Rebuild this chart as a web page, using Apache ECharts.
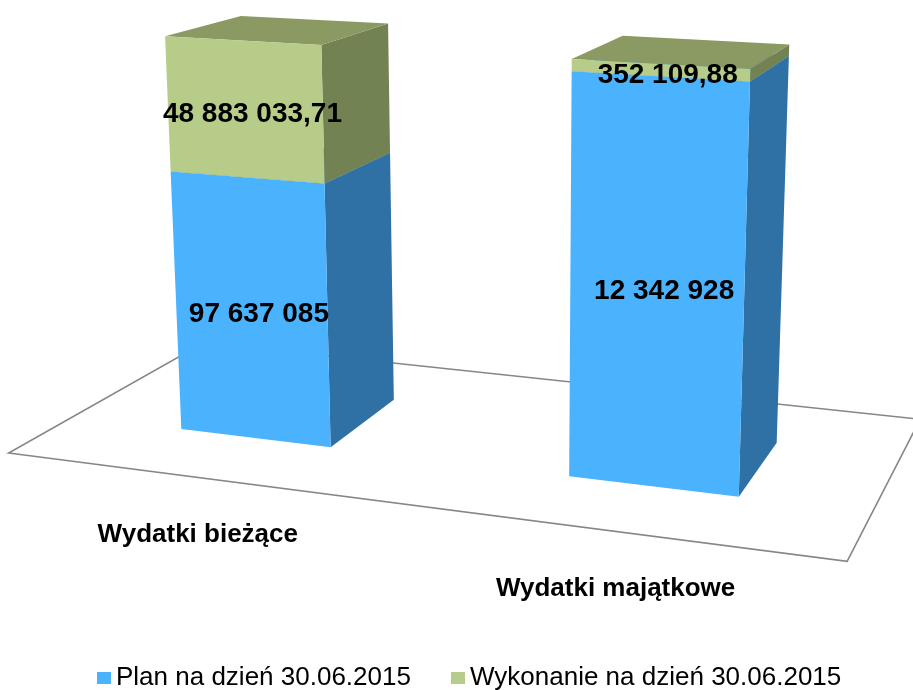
<!DOCTYPE html>
<html>
<head>
<meta charset="utf-8">
<style>
  html, body { margin: 0; padding: 0; background: #ffffff; }
  #chart { width: 913px; height: 690px; }
</style>
<script src="https://cdn.jsdelivr.net/npm/echarts@6/dist/echarts.min.js"></script>
</head>
<body>
<div id="chart"></div>
<script>
// dane
const categories = ['Wydatki bieżące', 'Wydatki majątkowe'];
const seriesNames = ['Plan na dzień 30.06.2015', 'Wykonanie na dzień 30.06.2015'];
const planValues = [97637085, 12342928];
const wykonanieValues = [48883033.71, 352109.88];

const colors = {
  plan: { front: '#4bb2fe', side: '#2f71a5', top: '#3c92d6' },
  wyk: { front: '#b7cc89', side: '#728253', top: '#8a9a62' }
};

// widok 3D: gdzie rzutuje się przednia płaszczyzna obszaru wykresu
const viewQuad = [[53, 30], [891, 77], [872, 513], [74, 416]];
const vanish = [1270, -260];
const depthFrac = 0.070;
const barFrac = 0.4;
const floorZ = [-0.75, 1.76];

const fmt = (v) => {
  const parts = v.toFixed(2).split('.');
  const int = parts[0].replace(/\B(?=(\d{3})+(?!\d))/g, ' ');
  return parts[1] === '00' ? int : int + ',' + parts[1];
};

const solve = (A, b) => {
  const n = b.length;
  for (let i = 0; i < n; i++) {
    let p = i;
    for (let r = i + 1; r < n; r++) if (Math.abs(A[r][i]) > Math.abs(A[p][i])) p = r;
    [A[i], A[p]] = [A[p], A[i]];
    [b[i], b[p]] = [b[p], b[i]];
    for (let r = i + 1; r < n; r++) {
      const f = A[r][i] / A[i][i];
      for (let c = i; c < n; c++) A[r][c] -= f * A[i][c];
      b[r] -= f * b[i];
    }
  }
  const x = new Array(n).fill(0);
  for (let i = n - 1; i >= 0; i--) {
    let s = b[i];
    for (let c = i + 1; c < n; c++) s -= A[i][c] * x[c];
    x[i] = s / A[i][i];
  }
  return x;
};

const homography = (src, dst) => {
  const A = [], b = [];
  for (let i = 0; i < 4; i++) {
    const [x, y] = src[i], [X, Y] = dst[i];
    A.push([x, y, 1, 0, 0, 0, -X * x, -X * y]); b.push(X);
    A.push([0, 0, 0, x, y, 1, -Y * x, -Y * y]); b.push(Y);
  }
  const h = solve(A, b);
  return [h[0], h[1], h[2], h[3], h[4], h[5], h[6], h[7], 1];
};

let proj = null;
const getProjector = (cs) => {
  const key = [cs.x, cs.y, cs.width, cs.height].join(',');
  if (proj && proj.key === key) return proj.fn;
  const src = [[cs.x, cs.y], [cs.x + cs.width, cs.y], [cs.x + cs.width, cs.y + cs.height], [cs.x, cs.y + cs.height]];
  const H = homography(src, viewQuad);
  const cx = cs.x + cs.width / 2, cy = cs.y + cs.height / 2;
  const wc = H[6] * cx + H[7] * cy + H[8];
  const s = depthFrac / (1 - depthFrac) * wc;
  const fn = (x, y, z) => {
    const hx = H[0] * x + H[1] * y + H[2];
    const hy = H[3] * x + H[4] * y + H[5];
    const hw = H[6] * x + H[7] * y + H[8];
    const d = hw + z * s;
    return [(hx + z * s * vanish[0]) / d, (hy + z * s * vanish[1]) / d];
  };
  proj = { key, fn };
  return fn;
};

const totals = planValues.map((v, i) => v + wykonanieValues[i]);
const planData = planValues.map((v, i) => [i, 0, v / totals[i] * 100, v]);
const wykData = wykonanieValues.map((v, i) => [i, planValues[i] / totals[i] * 100, 100, v]);

const renderBox = (c) => (params, api) => {
  const P = getProjector(params.coordSys);
  const cat = api.value(0);
  const b = api.coord([cat, api.value(1)]);
  const t = api.coord([cat, api.value(2)]);
  const half = api.size([1, 0])[0] * barFrac / 2;
  const xl = b[0] - half, xr = b[0] + half, y0 = b[1], y1 = t[1];
  const front = [P(xl, y1, 0), P(xr, y1, 0), P(xr, y0, 0), P(xl, y0, 0)];
  const side = [P(xr, y1, 0), P(xr, y1, 1), P(xr, y0, 1), P(xr, y0, 0)];
  const top = [P(xl, y1, 0), P(xr, y1, 0), P(xr, y1, 1), P(xl, y1, 1)];
  const mid = P(b[0], (y0 + y1) / 2, 0);
  return {
    type: 'group',
    children: [
      { type: 'polygon', shape: { points: side }, style: { fill: c.side } },
      { type: 'polygon', shape: { points: top }, style: { fill: c.top } },
      { type: 'polygon', shape: { points: front }, style: { fill: c.front } },
      {
        type: 'text',
        z2: 10,
        style: {
          text: fmt(api.value(3)),
          x: mid[0] + 8,
          y: mid[1] + 5,
          align: 'center',
          verticalAlign: 'middle',
          fill: '#000000',
          font: 'bold 28px "Liberation Sans", Arial, sans-serif'
        }
      }
    ]
  };
};

const renderFloor = (params, api) => {
  const P = getProjector(params.coordSys);
  const cs = params.coordSys;
  const cat = api.value(0);
  const base = api.coord([cat, 0]);
  const children = [];
  if (params.dataIndex === 0) {
    const xa = cs.x, xb = cs.x + cs.width, yb = cs.y + cs.height;
    const pts = [P(xa, yb, floorZ[0]), P(xb, yb, floorZ[0]), P(xb, yb, floorZ[1]), P(xa, yb, floorZ[1])];
    children.push({
      type: 'polygon',
      shape: { points: pts },
      style: { fill: '#ffffff', stroke: '#868686', lineWidth: 1.6 }
    });
  }
  const lp = P(base[0], base[1], floorZ[0]);
  children.push({
    type: 'text',
    style: {
      text: categories[cat],
      x: lp[0],
      y: lp[1] + 57,
      align: 'center',
      verticalAlign: 'middle',
      fill: '#000000',
      font: 'bold 26px "Liberation Sans", Arial, sans-serif'
    }
  });
  return { type: 'group', children };
};

const chart = echarts.init(document.getElementById('chart'));

const legendText = { fontFamily: '"Liberation Sans", Arial, sans-serif', fontSize: 26, color: '#000000' };

chart.setOption({
  animation: false,
  backgroundColor: '#ffffff',
  grid: { left: 100, top: 100, width: 700, height: 400 },
  xAxis: { type: 'category', data: categories, show: false },
  yAxis: { type: 'value', min: 0, max: 100, show: false },
  legend: [
    { data: [seriesNames[0]], left: 92, top: 660, icon: 'rect', itemWidth: 14, itemHeight: 12, itemGap: 0, textStyle: legendText },
    { data: [seriesNames[1]], left: 446, top: 660, icon: 'rect', itemWidth: 14, itemHeight: 12, itemGap: 0, textStyle: legendText }
  ],
  series: [
    {
      type: 'custom',
      name: 'floor',
      silent: true,
      z: 1,
      renderItem: renderFloor,
      data: categories.map((c, i) => [i])
    },
    {
      type: 'custom',
      name: seriesNames[0],
      z: 2,
      itemStyle: { color: colors.plan.front },
      renderItem: renderBox(colors.plan),
      data: planData
    },
    {
      type: 'custom',
      name: seriesNames[1],
      z: 3,
      itemStyle: { color: colors.wyk.front },
      renderItem: renderBox(colors.wyk),
      data: wykData
    }
  ]
});
</script>
</body>
</html>
